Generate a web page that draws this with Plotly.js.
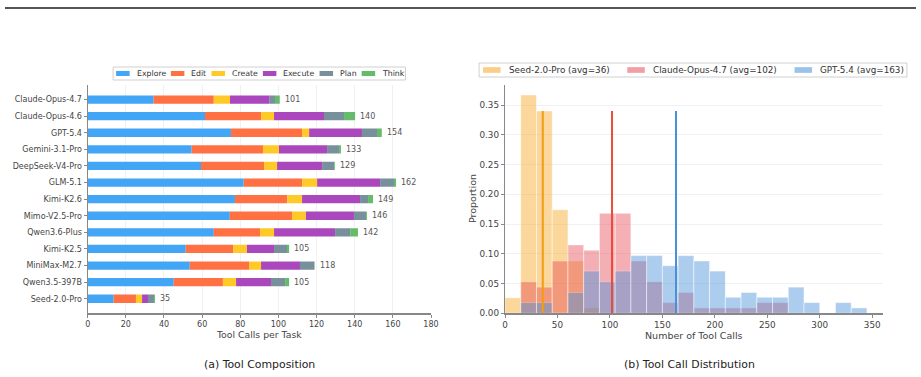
<!DOCTYPE html>
<html>
<head>
<meta charset="utf-8">
<script src="https://cdn.plot.ly/plotly-3.0.1.min.js"></script>
<style>html,body{margin:0;padding:0;background:#fff;}#chart{width:921px;height:377px;}</style>
</head>
<body>
<div id="chart"></div>
<script>
// ---- Panel (a): tool composition ----
const models = ['Claude-Opus-4.7','Claude-Opus-4.6','GPT-5.4','Gemini-3.1-Pro','DeepSeek-V4-Pro','GLM-5.1','Kimi-K2.6','Mimo-V2.5-Pro','Qwen3.6-Plus','Kimi-K2.5','MiniMax-M2.7','Qwen3.5-397B','Seed-2.0-Pro'];
const explore = [34.6, 61.5, 75.1, 54.5, 59.4, 81.8, 77.2, 74.5, 66.1, 51.4, 53.5, 45.1, 13.6];
const edit    = [31.5, 29.4, 37.3, 37.4, 33.1, 30.6, 27.4, 32.6, 24.3, 24.8, 31.1, 25.8, 11.7];
const create  = [8.5, 6.8, 3.7, 8.4, 6.8, 7.9, 7.8, 7.3, 7.3, 7.3, 6.3, 6.9, 3.2];
const execute = [20.8, 26.2, 27.7, 25.2, 23.6, 33.0, 30.4, 25.2, 32.0, 14.2, 20.4, 18.3, 3.1];
const plan    = [2.8, 10.5, 7.9, 6.3, 6.3, 7.3, 4.2, 6.3, 7.9, 6.8, 7.4, 7.4, 3.2];
const think   = [2.5, 5.8, 2.5, 1.0, 0.4, 1.1, 2.6, 0.5, 4.1, 1.1, 0.3, 2.1, 0.5];
const totals  = [101, 140, 154, 133, 129, 162, 149, 146, 142, 105, 118, 105, 35];
const toolNames = ['Explore','Edit','Create','Execute','Plan','Think'];
const toolColors = ['#42a5f5','#ff7043','#ffca28','#ab47bc','#78909c','#66bb6a'];

// ---- Panel (b): tool call distribution (bins of 15 from 0) ----
const binStart = 0;
const binWidth = 15;
const seedProp   = [0.026, 0.367, 0.340, 0.174, 0.088, 0.009, 0, 0, 0, 0, 0, 0, 0, 0, 0, 0, 0, 0, 0, 0, 0, 0, 0];
const claudeProp = [0, 0.053, 0.044, 0.088, 0.115, 0.106, 0.168, 0.168, 0.088, 0.053, 0.018, 0.035, 0.009, 0.009, 0.009, 0.009, 0.018, 0.018, 0, 0, 0, 0, 0];
const gptProp    = [0, 0.018, 0.018, 0, 0.035, 0.071, 0.053, 0.071, 0.097, 0.097, 0.080, 0.097, 0.088, 0.071, 0.027, 0.035, 0.027, 0.027, 0.044, 0.018, 0, 0.018, 0.009];
const histNames  = ['Seed-2.0-Pro (avg=36)','Claude-Opus-4.7 (avg=102)','GPT-5.4 (avg=163)'];
const histAvgs   = [36, 102, 163];
const histColors = ['#f5a623','#e6505a','#4a90d9'];
const lineColors = ['#f39c12','#e74c3c','#4a90d9'];

const W = 921, H = 377;
const px = v => v / W;
const py = v => 1 - v / H;
const FONT = 'DejaVu Sans';
const HIST_OPACITY = 0.45;

const traces = [];
const seriesA = [explore, edit, create, execute, plan, think];
const cum = models.map(() => 0);
seriesA.forEach((vals, i) => {
  traces.push({
    type: 'bar', orientation: 'h', x: vals.slice(), base: cum.slice(), y: models, width: 0.5,
    name: toolNames[i], marker: {color: toolColors[i], line: {width: 0}},
    xaxis: 'x', yaxis: 'y', showlegend: false, hoverinfo: 'skip'
  });
  vals.forEach((v, k) => { cum[k] += v; });
});

const hists = [seedProp, claudeProp, gptProp];
hists.forEach((vals, i) => {
  traces.push({
    type: 'bar', x: vals.map((_, k) => binStart + k * binWidth + binWidth / 2), y: vals,
    width: binWidth, name: histNames[i], opacity: HIST_OPACITY,
    marker: {color: histColors[i], line: {color: 'rgba(255,255,255,0.8)', width: 0.6}},
    xaxis: 'x2', yaxis: 'y2', showlegend: false, hoverinfo: 'skip'
  });
});
const lineTop = 0.34;
histAvgs.forEach((a, i) => {
  traces.push({
    type: 'scatter', mode: 'lines', x: [a, a], y: [0, lineTop],
    line: {color: lineColors[i], width: 2}, showlegend: false,
    xaxis: 'x2', yaxis: 'y2', hoverinfo: 'skip'
  });
});

const annotations = [];
const shapes = [
  {type: 'line', xref: 'paper', yref: 'paper', x0: px(5), x1: px(916), y0: py(8), y1: py(8), line: {color: '#555', width: 2}}
];

models.forEach((m, i) => {
  annotations.push({
    x: cum[i], y: m, xref: 'x', yref: 'y', text: String(totals[i]),
    showarrow: false, xanchor: 'left', xshift: 3,
    font: {family: FONT, size: 8, color: '#555'}
  });
});

// custom legends (matplotlib-like compact layout)
const cv = document.createElement('canvas').getContext('2d');
function textW(t, size) { cv.font = size + 'px "' + FONT + '"'; return cv.measureText(t).width; }
function buildLegend(names, colors, opacity, o) {
  const widths = names.map(n => textW(n, o.size));
  const total = 2 * o.bpad + widths.reduce((s, w) => s + o.swW + o.pad + w, 0) + o.colSp * (names.length - 1);
  const x0 = o.cx - total / 2;
  shapes.push({type: 'rect', xref: 'paper', yref: 'paper', x0: px(x0), x1: px(x0 + total), y0: py(o.top + o.h), y1: py(o.top),
    line: {color: '#d0d0d0', width: 1}, fillcolor: 'rgba(255,255,255,0.9)', layer: 'above'});
  const cy = o.top + o.h / 2;
  let x = x0 + o.bpad;
  names.forEach((n, i) => {
    shapes.push({type: 'rect', xref: 'paper', yref: 'paper', x0: px(x), x1: px(x + o.swW), y0: py(cy + o.swH / 2), y1: py(cy - o.swH / 2),
      line: {width: 0}, fillcolor: colors[i], opacity: opacity, layer: 'above'});
    x += o.swW + o.pad;
    annotations.push({x: px(x), y: py(cy), xref: 'paper', yref: 'paper', text: n, showarrow: false,
      xanchor: 'left', yanchor: 'middle', borderpad: 0, font: {family: FONT, size: o.size, color: '#333'}});
    x += widths[i] + o.colSp;
  });
}
buildLegend(toolNames, toolColors, 1, {size: 7.8, swW: 13.5, swH: 5, pad: 6, colSp: 6, bpad: 3, cx: 259.3, top: 67, h: 13});
buildLegend(histNames, histColors, HIST_OPACITY + 0.1, {size: 8.8, swW: 17.5, swH: 5.7, pad: 7, colSp: 19, bpad: 4, cx: 693, top: 63, h: 14});

annotations.push(
  {x: px(259.3), y: py(334), xref: 'paper', yref: 'paper', text: 'Tool Calls per Task', showarrow: false, xanchor: 'center', yanchor: 'middle', font: {family: FONT, size: 9.3, color: '#444'}},
  {x: px(694), y: py(335), xref: 'paper', yref: 'paper', text: 'Number of Tool Calls', showarrow: false, xanchor: 'center', yanchor: 'middle', font: {family: FONT, size: 9.5, color: '#444'}},
  {x: px(472), y: py(199), xref: 'paper', yref: 'paper', text: 'Proportion', textangle: -90, showarrow: false, xanchor: 'center', yanchor: 'middle', font: {family: FONT, size: 9.5, color: '#444'}},
  {x: px(259.3), y: py(364), xref: 'paper', yref: 'paper', text: '(a) Tool Composition', showarrow: false, xanchor: 'center', yanchor: 'middle', font: {family: FONT, size: 10.9, color: '#222'}},
  {x: px(689.3), y: py(364), xref: 'paper', yref: 'paper', text: '(b) Tool Call Distribution', showarrow: false, xanchor: 'center', yanchor: 'middle', font: {family: FONT, size: 10.9, color: '#222'}}
);

const axBase = {zeroline: false, showline: true, linecolor: '#888', linewidth: 1.2, ticks: 'outside', ticklen: 3, tickcolor: '#888', fixedrange: true};
const layout = {
  width: W, height: H,
  margin: {l: 0, r: 0, t: 0, b: 0},
  paper_bgcolor: '#fff', plot_bgcolor: '#fff',
  font: {family: FONT, size: 8, color: '#444'},
  barmode: 'overlay', showlegend: false,
  xaxis: Object.assign({}, axBase, {
    domain: [px(87.7), px(431)], range: [0, 180], tickvals: [0,20,40,60,80,100,120,140,160,180],
    showgrid: true, gridcolor: '#f1f1f1', gridwidth: 1,
    tickfont: {family: FONT, size: 8, color: '#444'}, anchor: 'y'
  }),
  yaxis: Object.assign({}, axBase, {
    domain: [py(313.3), py(85)], type: 'category', range: [12.875, -0.875], showgrid: false,
    tickfont: {family: FONT, size: 8, color: '#444'}, anchor: 'x'
  }),
  xaxis2: Object.assign({}, axBase, {
    domain: [px(505), px(882.7)], range: [0, 360], tickvals: [0,50,100,150,200,250,300,350], showgrid: false,
    tickfont: {family: FONT, size: 8.8, color: '#444'}, anchor: 'y2'
  }),
  yaxis2: Object.assign({}, axBase, {
    domain: [py(313.3), py(85)], range: [0, 0.3837], tickvals: [0,0.05,0.10,0.15,0.20,0.25,0.30,0.35], tickformat: '.2f',
    showgrid: true, gridcolor: '#f1f1f1',
    tickfont: {family: FONT, size: 8.8, color: '#444'}, anchor: 'x2'
  }),
  shapes: shapes,
  annotations: annotations
};

Plotly.newPlot('chart', traces, layout, {displayModeBar: false, staticPlot: true});
</script>
</body>
</html>
